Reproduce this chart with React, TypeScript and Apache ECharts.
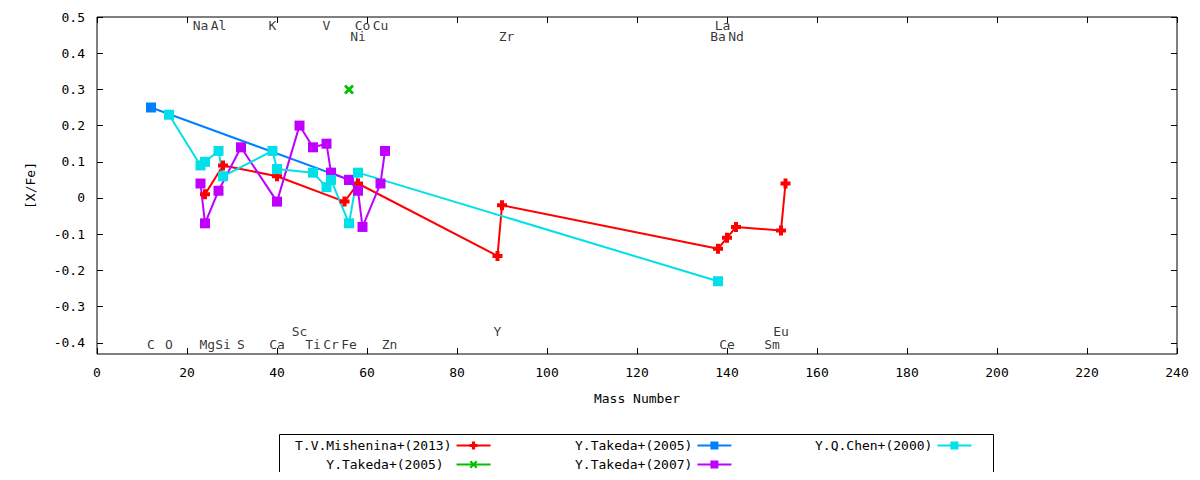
import { useEffect, useRef } from 'react';
import * as echarts from 'echarts';

const FONT = 'DejaVu Sans Mono';

const mishenina = [[24, 0.01], [28, 0.09], [40, 0.06], [55, -0.01], [58, 0.04], [89, -0.16], [90, -0.02], [138, -0.14], [140, -0.11], [142, -0.08], [152, -0.09], [153, 0.04]];
const takeda05a = [[12, 0.25], [56, 0.05]];
const takeda05b = [[56, 0.3]];
const takeda07 = [[23, 0.04], [24, -0.07], [27, 0.02], [32, 0.14], [40, -0.01], [45, 0.2], [48, 0.14], [51, 0.15], [52, 0.07], [56, 0.05], [58, 0.02], [59, -0.08], [63, 0.04], [64, 0.13]];
const chen = [[16, 0.23], [23, 0.09], [24, 0.1], [27, 0.13], [28, 0.06], [39, 0.13], [40, 0.08], [48, 0.07], [51, 0.03], [52, 0.05], [56, -0.07], [58, 0.07], [138, -0.23]];

const elements: [string, number, number][] = [
  ['Na', 23, 0.477], ['Al', 27, 0.477], ['K', 39, 0.477], ['V', 51, 0.477], ['Co', 59, 0.477], ['Cu', 63, 0.477], ['La', 139, 0.477],
  ['Ni', 58, 0.446], ['Zr', 91, 0.446], ['Ba', 138, 0.446], ['Nd', 142, 0.446],
  ['Sc', 45, -0.368], ['Y', 89, -0.368], ['Eu', 152, -0.368],
  ['C', 12, -0.405], ['O', 16, -0.405], ['Mg', 24.5, -0.405], ['Si', 28, -0.405], ['S', 32, -0.405], ['Ca', 40, -0.405],
  ['Ti', 48, -0.405], ['Cr', 52, -0.405], ['Fe', 56, -0.405], ['Zn', 65, -0.405], ['Ce', 140, -0.405], ['Sm', 150, -0.405],
];

const yTicks = [-0.4, -0.3, -0.2, -0.1, 0, 0.1, 0.2, 0.3, 0.4, 0.5];

const PLUS = 'path://M3,0H7V3H10V7H7V10H3V7H0V3H3Z';
const CROSS = 'path://M0,2L2,0L5,3L8,0L10,2L7,5L10,8L8,10L5,7L2,10L0,8L3,5Z';

export default function App() {
  const ref = useRef<HTMLDivElement>(null);

  useEffect(() => {
    if (!ref.current) return;
    const chart = echarts.init(ref.current, null, { renderer: 'svg' });
    const mk = (name: string, data: number[][], color: string, symbol: string, size: number) => ({
      name, type: 'line', data, symbol, symbolSize: size,
      lineStyle: { color, width: 2 }, itemStyle: { color },
    });
    const legendBase = {
      orient: 'vertical', align: 'right', itemWidth: 34, itemHeight: 10, itemGap: 6,
      textStyle: { fontFamily: FONT, fontSize: 13, color: '#000' },
    };
    const tick = { inside: true, length: 6, lineStyle: { color: '#000' } };
    chart.setOption({
      animation: false,
      textStyle: { fontFamily: FONT },
      grid: { left: 97, right: 23, top: 17, bottom: 126, show: true, borderColor: '#000', borderWidth: 1 },
      xAxis: [
        {
          type: 'value', min: 0, max: 240, interval: 20,
          name: 'Mass Number', nameLocation: 'middle', nameGap: 38,
          nameTextStyle: { fontFamily: FONT, fontSize: 13, color: '#000' },
          axisLine: { show: false, onZero: false }, splitLine: { show: false },
          axisTick: tick,
          axisLabel: { fontFamily: FONT, fontSize: 13, color: '#000', margin: 12 },
        },
        {
          type: 'value', min: 0, max: 240, interval: 20, position: 'top',
          axisLine: { show: false, onZero: false }, splitLine: { show: false }, axisLabel: { show: false },
          axisTick: tick,
        },
      ],
      yAxis: [
        {
          type: 'value', min: -0.431, max: 0.5,
          name: '[X/Fe]', nameLocation: 'middle', nameGap: 60, nameRotate: 90,
          nameTextStyle: { fontFamily: FONT, fontSize: 13, color: '#000' },
          axisLine: { show: false, onZero: false }, splitLine: { show: false },
          axisTick: { ...tick, customValues: yTicks },
          axisLabel: { fontFamily: FONT, fontSize: 13, color: '#000', margin: 12, customValues: yTicks, formatter: (v: number) => String(Math.round(v * 10) / 10) },
        },
        {
          type: 'value', min: -0.431, max: 0.5, position: 'right',
          axisLine: { show: false, onZero: false }, splitLine: { show: false }, axisLabel: { show: false },
          axisTick: { ...tick, customValues: yTicks },
        },
      ],
      legend: [
        { ...legendBase, left: 290, top: 434, data: ['T.V.Mishenina+(2013)', 'Y.Takeda+(2005) '] },
        { ...legendBase, left: 570, top: 434, data: ['Y.Takeda+(2005)', 'Y.Takeda+(2007)'] },
        { ...legendBase, left: 810, top: 434, data: ['Y.Q.Chen+(2000)'] },
      ],
      graphic: [{ type: 'rect', shape: { x: 279.5, y: 434.5, width: 714, height: 41 }, style: { fill: 'none', stroke: '#000', lineWidth: 1 } }],
      series: [
        {
          type: 'scatter', symbolSize: 0, silent: true,
          data: elements.map(([n, x, y]) => ({ value: [x, y], name: n })),
          label: { show: true, position: 'inside', formatter: '{b}', fontFamily: FONT, fontSize: 13, color: '#000' },
        },
        mk('T.V.Mishenina+(2013)', mishenina, '#ff0000', PLUS, 10),
        mk('Y.Takeda+(2005) ', takeda05b, '#00c000', CROSS, 10),
        mk('Y.Takeda+(2005)', takeda05a, '#0080ff', 'rect', 10),
        mk('Y.Takeda+(2007)', takeda07, '#c000ff', 'rect', 10),
        mk('Y.Q.Chen+(2000)', chen, '#00e0e8', 'rect', 10),
      ],
    });
    return () => chart.dispose();
  }, []);

  return <div ref={ref} style={{ width: 1200, height: 480, margin: -8 }} />;
}
